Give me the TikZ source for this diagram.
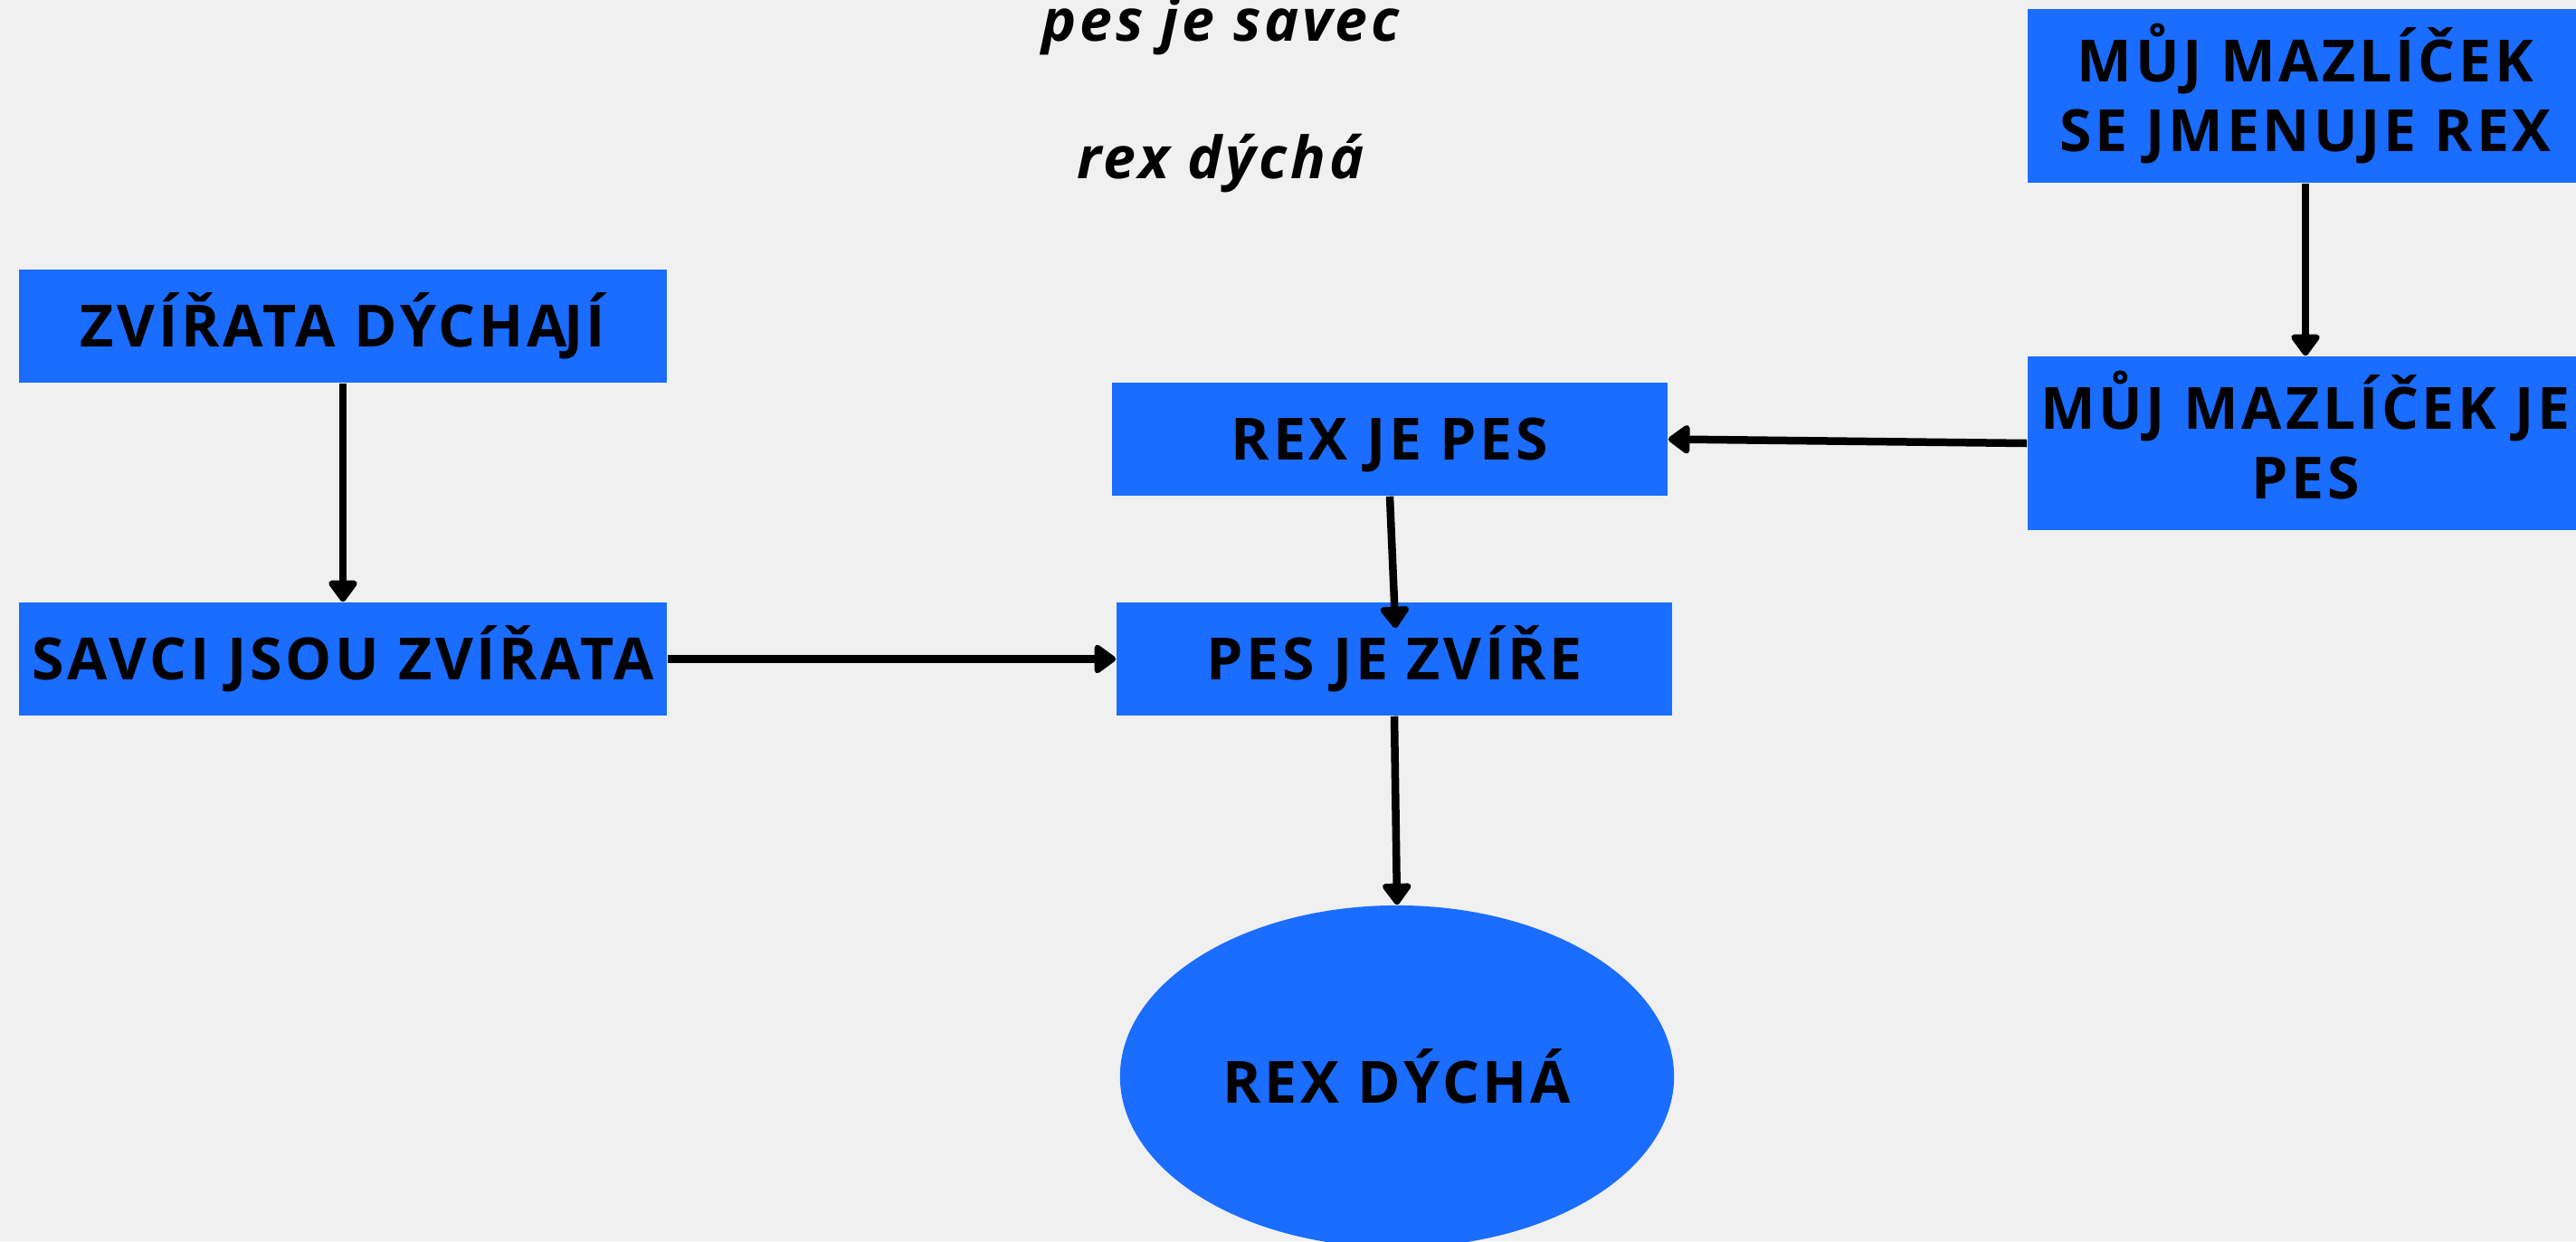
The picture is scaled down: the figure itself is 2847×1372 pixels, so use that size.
\documentclass[tikz,border=0pt]{standalone}
\usepackage{fontspec}
\setmainfont{Open Sans}
\usetikzlibrary{arrows.meta, shapes.geometric}
\definecolor{boxblue}{RGB}{26,109,255}
\definecolor{paper}{RGB}{240,240,240}
\newcommand{\boxfont}{\bfseries\fontsize{18.3pt}{21.9pt}\selectfont\addfontfeatures{LetterSpace=5.8}}

\tikzset{
    premise/.style={rectangle, fill=boxblue, inner sep=0pt, minimum width=6.14cm, minimum height=1.25cm,
        font=\boxfont, align=center, text height=13.1pt, text depth=0pt},
    twoline/.style={premise, minimum height=1.92cm, text height=35pt},
    note/.style={font=\boxfont\itshape, anchor=base},
    infer/.style={-{Triangle[length=0.26cm, width=0.36cm, round]}, line width=0.085cm, black}
}

\begin{document}
\begin{tikzpicture}[x=0.01cm, y=-0.01cm]
    \fill [paper] (0,0) rectangle (2847,1372);
    \useasboundingbox (0,0) rectangle (2847,1372);
    \node [note] (fact1) at (1349,45) {pes je savec};
    \node [note] (fact2) at (1349,197) {rex dýchá};
    \node [twoline] (pet) at (2548,106) {MŮJ MAZLÍČEK\\SE JMENUJE REX};
    \node [twoline] (petdog) at (2548,490) {MŮJ MAZLÍČEK JE\\PES};
    \node [premise, minimum width=7.16cm] (breathe) at (379,360.5) {ZVÍŘATA DÝCHA\kern-0.06em JÍ};
    \node [premise, minimum width=7.16cm] (mammals) at (379,728.5) {SAVCI JSOU ZVÍŘATA};
    \node [premise] (rexdog) at (1536,485.5) {REX JE PES};
    \node [premise] (doganimal) at (1541,728.5) {PES JE ZVÍŘE};
    \node [ellipse, fill=boxblue, inner sep=0pt, minimum width=6.12cm, minimum height=3.78cm,
        font=\boxfont] (rexbreathes) at (1544,1190) {REX DÝCHÁ};
    \draw [infer] (pet) -- (petdog);
    \draw [infer] (petdog.west) -- (rexdog.east);
    \draw [infer] (breathe) -- (mammals);
    \draw [infer] (mammals) -- (doganimal);
    \draw [infer, shorten >=-0.29cm] (rexdog.south) -- (doganimal.north);
    \draw [infer] (doganimal.south) -- (rexbreathes.north);
\end{tikzpicture}
\end{document}
